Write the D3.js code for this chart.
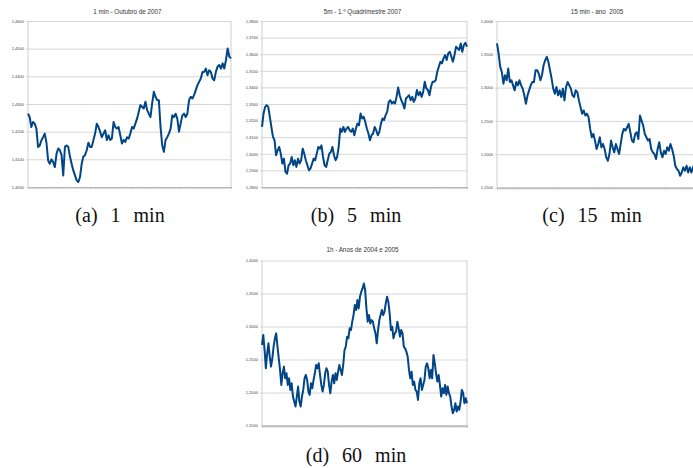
<!DOCTYPE html>
<html>
<head>
<meta charset="utf-8">
<script src="https://cdn.jsdelivr.net/npm/d3@7"></script>
<style>
  body { margin: 0; background: #fff; }
  svg { display: block; }
</style>
</head>
<body>
<script>
// titles and captions
const titles = ["1 min - Outubro de 2007", "5m - 1.º Quadrimestre 2007", "15 min - ano  2005", "1h - Anos de 2004 e 2005"];
const captions = ["(a) 1 min", "(b) 5 min", "(c) 15 min", "(d) 60 min"];

// y ticks
const ticks1 = [1.40, 1.41, 1.42, 1.43, 1.44, 1.45, 1.46];
const ticks5 = [1.28, 1.29, 1.30, 1.31, 1.32, 1.33, 1.34, 1.35, 1.36, 1.37, 1.38];
const ticks15 = [1.15, 1.20, 1.25, 1.30, 1.35, 1.40];
const ticks60 = [1.15, 1.20, 1.25, 1.30, 1.35, 1.40];

// series values
const min1Values = [
  1.4265, 1.4253, 1.4217, 1.4235, 1.4229, 1.4211, 1.4145, 1.4150, 1.4169, 1.4180,
  1.4193, 1.4160, 1.4096, 1.4084, 1.4100, 1.4090, 1.4072, 1.4120, 1.4139, 1.4133,
  1.4115, 1.4042, 1.4145, 1.4150, 1.4145, 1.4110, 1.4084, 1.4060, 1.4042, 1.4024,
  1.4018, 1.4036, 1.4084, 1.4110, 1.4115, 1.4133, 1.4160, 1.4145, 1.4145, 1.4170,
  1.4193, 1.4229, 1.4217, 1.4200, 1.4180, 1.4193, 1.4205, 1.4170, 1.4187, 1.4170,
  1.4175, 1.4235, 1.4217, 1.4211, 1.4217, 1.4187, 1.4157, 1.4170, 1.4163, 1.4180,
  1.4175, 1.4193, 1.4217, 1.4211, 1.4229, 1.4247, 1.4271, 1.4296, 1.4290, 1.4284,
  1.4308, 1.4278, 1.4265, 1.4253, 1.4302, 1.4344, 1.4326, 1.4314, 1.4314, 1.4217,
  1.4150, 1.4127, 1.4170, 1.4180, 1.4193, 1.4211, 1.4259, 1.4253, 1.4265, 1.4247,
  1.4200, 1.4229, 1.4259, 1.4265, 1.4253, 1.4265, 1.4314, 1.4326, 1.4320, 1.4332,
  1.4350, 1.4368, 1.4380, 1.4392, 1.4416, 1.4416, 1.4428, 1.4404, 1.4422, 1.4416,
  1.4392, 1.4386, 1.4416, 1.4435, 1.4441, 1.4428, 1.4447, 1.4428, 1.4459, 1.4501,
  1.4471, 1.4465
];

const min5Values = [
  1.3162, 1.3243, 1.3283, 1.3293, 1.3283, 1.3223, 1.3162, 1.3102, 1.3082, 1.2991,
  1.3021, 1.3041, 1.3001, 1.2941, 1.2971, 1.2891, 1.2880, 1.2931, 1.2941, 1.2981,
  1.2931, 1.2961, 1.2921, 1.2971, 1.2941, 1.2961, 1.3031, 1.3001, 1.2961, 1.2931,
  1.2901, 1.2911, 1.2941, 1.2971, 1.2961, 1.3001, 1.3041, 1.3031, 1.3051, 1.2981,
  1.2931, 1.2921, 1.2961, 1.3001, 1.3011, 1.3041, 1.2991, 1.2961, 1.2981, 1.3041,
  1.3152, 1.3132, 1.3162, 1.3132, 1.3152, 1.3162, 1.3142, 1.3132, 1.3152, 1.3112,
  1.3152, 1.3182, 1.3172, 1.3243, 1.3213, 1.3223, 1.3192, 1.3152, 1.3122, 1.3082,
  1.3112, 1.3122, 1.3162, 1.3142, 1.3112, 1.3132, 1.3182, 1.3213, 1.3203, 1.3233,
  1.3253, 1.3313, 1.3323, 1.3303, 1.3313, 1.3303, 1.3343, 1.3400, 1.3353, 1.3323,
  1.3303, 1.3273, 1.3333, 1.3343, 1.3353, 1.3323, 1.3343, 1.3313, 1.3333, 1.3384,
  1.3353, 1.3373, 1.3343, 1.3373, 1.3434, 1.3394, 1.3384, 1.3353, 1.3404, 1.3434,
  1.3434, 1.3444, 1.3494, 1.3524, 1.3555, 1.3545, 1.3575, 1.3595, 1.3565, 1.3605,
  1.3615, 1.3585, 1.3555, 1.3595, 1.3645, 1.3635, 1.3625, 1.3665, 1.3615, 1.3655,
  1.3669, 1.3645
];

const min15Values = [
  1.3663, 1.3512, 1.3311, 1.3235, 1.3059, 1.3185, 1.3110, 1.3286, 1.3084, 1.3110,
  1.3034, 1.2959, 1.3084, 1.3034, 1.3110, 1.3034, 1.2984, 1.2883, 1.2758, 1.2883,
  1.2959, 1.3034, 1.3084, 1.3084, 1.3260, 1.3260, 1.3210, 1.3110, 1.3185, 1.3336,
  1.3411, 1.3462, 1.3386, 1.3260, 1.3135, 1.2984, 1.2908, 1.3009, 1.2883, 1.2959,
  1.2858, 1.2984, 1.2808, 1.3009, 1.3084, 1.3034, 1.2984, 1.2883, 1.2858, 1.2959,
  1.2933, 1.2808, 1.2707, 1.2607, 1.2657, 1.2581, 1.2607, 1.2556, 1.2380, 1.2254,
  1.2305, 1.2204, 1.2078, 1.2154, 1.2254, 1.2103, 1.2154, 1.2078, 1.1953, 1.1902,
  1.2003, 1.2204, 1.2103, 1.2028, 1.2154, 1.2078, 1.2003, 1.2154, 1.2305, 1.2380,
  1.2355, 1.2405, 1.2455, 1.2330, 1.2204, 1.2179, 1.2305, 1.2330, 1.2229, 1.2581,
  1.2506, 1.2430, 1.2305, 1.2254, 1.2204, 1.2229, 1.2078, 1.2028, 1.2003, 1.1927,
  1.2078, 1.2179, 1.2028, 1.1953, 1.2053, 1.2003, 1.2103, 1.2053, 1.2154, 1.2078,
  1.1978, 1.1827, 1.1777, 1.1751, 1.1676, 1.1726, 1.1802, 1.1751, 1.1827, 1.1726,
  1.1802, 1.1726, 1.1802, 1.1852, 1.1978, 1.1950, 1.1880, 1.1920
];

const min60Values = [
  1.2720, 1.2871, 1.2644, 1.2367, 1.2594, 1.2745, 1.2543, 1.2392, 1.2518, 1.2695,
  1.2821, 1.2896, 1.2695, 1.2518, 1.2342, 1.2115, 1.2291, 1.2392, 1.2216, 1.2291,
  1.2115, 1.2216, 1.2039, 1.2140, 1.1939, 1.1863, 1.1787, 1.1939, 1.2090, 1.1863,
  1.1787, 1.1939, 1.2039, 1.2216, 1.2266, 1.2190, 1.2014, 1.1964, 1.2140, 1.2064,
  1.2190, 1.2291, 1.2417, 1.2367, 1.2442, 1.2266, 1.2115, 1.2014, 1.2115, 1.2291,
  1.2367, 1.2316, 1.2115, 1.1989, 1.2165, 1.2266, 1.2140, 1.2291, 1.2190, 1.2316,
  1.2417, 1.2342, 1.2266, 1.2417, 1.2644, 1.2695, 1.2846, 1.2821, 1.2972, 1.2946,
  1.3073, 1.3173, 1.3325, 1.3249, 1.3400, 1.3274, 1.3451, 1.3526, 1.3577, 1.3652,
  1.3551, 1.3274, 1.3073, 1.3173, 1.3047, 1.3097, 1.3073, 1.2972, 1.2896, 1.2745,
  1.2946, 1.3097, 1.3173, 1.3249, 1.3173, 1.3224, 1.3350, 1.3451, 1.3375, 1.3199,
  1.2946, 1.2997, 1.2821, 1.2896, 1.2921, 1.3073, 1.2972, 1.2846, 1.2946, 1.2896,
  1.2695, 1.2669, 1.2619, 1.2543, 1.2342, 1.2216, 1.2316, 1.2115, 1.2165, 1.2039,
  1.2014, 1.1888, 1.2140, 1.2216, 1.2039, 1.2115, 1.2190, 1.2392, 1.2442, 1.2367,
  1.2216, 1.2342, 1.2216, 1.2569, 1.2442, 1.2291, 1.2165, 1.2266, 1.2115, 1.1939,
  1.2064, 1.1989, 1.2115, 1.1964, 1.2090, 1.1989, 1.1939, 1.1787, 1.1686, 1.1737,
  1.1838, 1.1712, 1.1787, 1.1737, 1.1863, 1.2039, 1.1989, 1.1838, 1.1914, 1.1838
];

const panels = [
  { values: min1Values, ticks: ticks1, title: titles[0], caption: captions[0],
    box: { left: 28, top: 21, right: 231, bottom: 187 }, titleY: 13.5, capX: 120, capY: 222 },
  { values: min5Values, ticks: ticks5, title: titles[1], caption: captions[1],
    box: { left: 262, top: 21, right: 467, bottom: 187 }, titleY: 13.5, capX: 356, capY: 222 },
  { values: min15Values, ticks: ticks15, title: titles[2], caption: captions[2],
    box: { left: 497, top: 21, right: 701, bottom: 187.5 }, titleY: 13.5, capX: 592, capY: 222 },
  { values: min60Values, ticks: ticks60, title: titles[3], caption: captions[3],
    box: { left: 262, top: 260.5, right: 467, bottom: 425.5 }, titleY: 252, capX: 356, capY: 462 }
];

const svg = d3.select("body").append("svg")
  .attr("width", 693)
  .attr("height", 468);

const fmt = v => d3.format(".4f")(v).replace(".", ",");

panels.forEach(p => {
  const b = p.box;
  let x = d3.scaleLinear().domain([0, p.values.length - 1]).range([b.left, b.right]);
  let y = d3.scaleLinear().domain(d3.extent(p.ticks)).range([b.bottom, b.top]);

  // gridlines + y labels
  let gy = svg.append("g")
    .attr("transform", "translate(" + b.left + ",0)")
    .call(d3.axisLeft(y).tickValues(p.ticks).tickSize(-(b.right - b.left)).tickPadding(4).tickFormat(fmt));
  gy.select(".domain").remove();
  gy.selectAll(".tick line")
    .attr("stroke", "#d6d6d6")
    .attr("x1", -2)
    .attr("x2", b.right - b.left);
  gy.selectAll(".tick text")
    .attr("font-family", "Liberation Sans, sans-serif")
    .attr("font-size", 4)
    .attr("fill", "#444");

  // left and right frame lines
  svg.append("line")
    .attr("x1", b.left).attr("x2", b.left).attr("y1", b.top).attr("y2", b.bottom)
    .attr("stroke", "#cfcfcf");
  svg.append("line")
    .attr("x1", b.right).attr("x2", b.right).attr("y1", b.top).attr("y2", b.bottom)
    .attr("stroke", "#cfcfcf");

  // category axis: dense ticks make the grey band
  let gx = svg.append("g")
    .attr("transform", "translate(0," + b.bottom + ")")
    .call(d3.axisBottom(x).tickValues(d3.range(0, p.values.length)).tickSize(2).tickFormat(""));
  gx.select(".domain").attr("stroke", "#b8b8b8");
  gx.selectAll(".tick line").attr("stroke", "#b8b8b8").attr("stroke-width", 0.9);

  // title
  svg.append("text")
    .attr("x", (b.left + b.right) / 2 - 2)
    .attr("y", p.titleY)
    .attr("text-anchor", "middle")
    .attr("font-family", "Liberation Sans, sans-serif")
    .attr("font-size", 6.3)
    .attr("fill", "#333")
    .style("white-space", "pre")
    .text(p.title);

  // series
  let line = d3.line()
    .x((d, i) => x(i))
    .y(d => y(d));
  svg.append("path")
    .datum(p.values)
    .attr("fill", "none")
    .attr("stroke", "#004586")
    .attr("stroke-width", 2)
    .attr("stroke-linejoin", "round")
    .attr("d", line);

  // caption
  svg.append("text")
    .attr("x", p.capX)
    .attr("y", p.capY)
    .attr("text-anchor", "middle")
    .attr("font-family", "Liberation Serif, serif")
    .attr("font-size", 20)
    .attr("word-spacing", 8)
    .attr("fill", "#111")
    .text(p.caption);
});
</script>
</body>
</html>
